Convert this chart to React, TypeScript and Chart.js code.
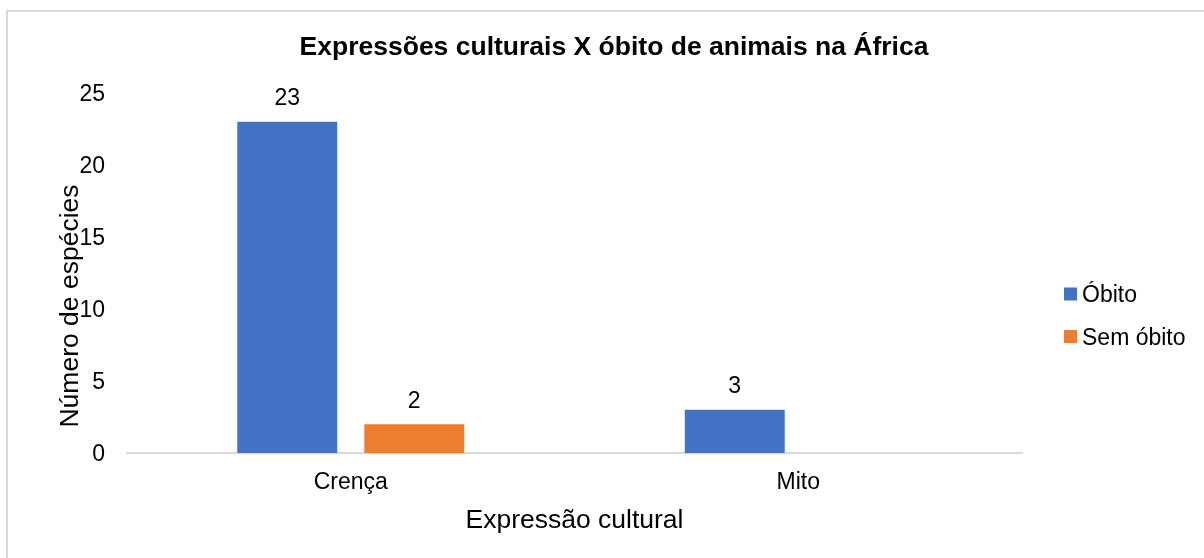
import React, { useEffect, useRef } from "react";
import { Chart, registerables } from "chart.js";

Chart.register(...registerables);

// ---- data ----
const categories = ["Crença", "Mito"];
const seriesNames = ["Óbito", "Sem óbito"];
const obitoValues: (number | null)[] = [23, 3];
const semObitoValues: (number | null)[] = [2, null];
const yTickValues = [0, 5, 10, 15, 20, 25];
const chartTitle = "Expressões culturais X óbito de animais na África";
const xAxisTitle = "Expressão cultural";
const yAxisTitle = "Número de espécies";

const seriesColors = ["#4472C4", "#ED7D31"];
const FONT = '"Liberation Sans", Arial, Helvetica, sans-serif';

const valueLabelsPlugin = {
  id: "valueLabels",
  afterDatasetsDraw(chart: any) {
    const ctx = chart.ctx;
    ctx.save();
    ctx.font = `23px ${FONT}`;
    ctx.fillStyle = "#000";
    ctx.textAlign = "center";
    ctx.textBaseline = "middle";
    chart.data.datasets.forEach((ds: any, i: number) => {
      const meta = chart.getDatasetMeta(i);
      meta.data.forEach((el: any, j: number) => {
        const v = ds.data[j];
        if (v === null || v === undefined) return;
        ctx.fillText(String(v), el.x, el.y - 23);
      });
    });
    ctx.restore();
  },
};

const sideLegendPlugin = {
  id: "sideLegend",
  afterDraw(chart: any) {
    const ctx = chart.ctx;
    ctx.save();
    ctx.font = `23px ${FONT}`;
    ctx.textAlign = "left";
    ctx.textBaseline = "middle";
    const x0 = chart.chartArea.right + 42;
    const yStart = 294;
    const gap = 42.5;
    chart.data.datasets.forEach((ds: any, i: number) => {
      const y = yStart + i * gap;
      ctx.fillStyle = ds.backgroundColor;
      ctx.fillRect(x0, y - 6.5, 13, 13);
      ctx.fillStyle = "#000";
      ctx.fillText(ds.label, x0 + 18, y + 2);
    });
    ctx.restore();
  },
};

const yTitlePlugin = {
  id: "yTitle",
  afterDraw(chart: any) {
    const ctx = chart.ctx;
    ctx.save();
    ctx.font = `26.5px ${FONT}`;
    ctx.fillStyle = "#000";
    ctx.textAlign = "center";
    ctx.textBaseline = "middle";
    ctx.translate(71, 306);
    ctx.rotate(-Math.PI / 2);
    ctx.fillText(yAxisTitle, 0, 0);
    ctx.restore();
  },
};

export default function App() {
  const canvasRef = useRef<HTMLCanvasElement | null>(null);

  useEffect(() => {
    if (!canvasRef.current) return;
    const chart = new Chart(canvasRef.current, {
      type: "bar",
      data: {
        labels: categories,
        datasets: [
          {
            label: seriesNames[0],
            data: obitoValues,
            backgroundColor: seriesColors[0],
            categoryPercentage: 0.5676,
            barPercentage: 0.787,
          },
          {
            label: seriesNames[1],
            data: semObitoValues,
            backgroundColor: seriesColors[1],
            categoryPercentage: 0.5676,
            barPercentage: 0.787,
          },
        ] as any,
      },
      options: {
        responsive: false,
        animation: false,
        layout: { padding: { left: 24, right: 0, top: 0, bottom: 0 } },
        plugins: {
          legend: { display: false },
          tooltip: { enabled: false },
          title: {
            display: true,
            text: chartTitle,
            color: "#000",
            font: { family: FONT, size: 26.5, weight: "bold", lineHeight: 1.2 },
            padding: { top: 32, bottom: 29.2 },
          },
        },
        scales: {
          x: {
            grid: { display: false, drawTicks: false },
            border: { display: true, color: "#d9d9d9", width: 2 },
            ticks: {
              color: "#000",
              font: { family: FONT, size: 23 },
              padding: 16,
            },
            title: {
              display: true,
              text: xAxisTitle,
              color: "#000",
              font: { family: FONT, size: 26.5, lineHeight: 1.2 },
              padding: { top: 0, bottom: 21 },
            },
            afterFit: (s: any) => {
              s.height = 105;
            },
          },
          y: {
            min: yTickValues[0],
            max: yTickValues[yTickValues.length - 1],
            grid: { display: false, drawTicks: false },
            border: { display: false },
            ticks: {
              stepSize: yTickValues[1] - yTickValues[0],
              color: "#000",
              font: { family: FONT, size: 23 },
              padding: 22,
              labelOffset: 2,
            },
            afterFit: (s: any) => {
              s.width = 103;
            },
          },
          legendSpace: {
            type: "linear",
            position: "right",
            display: true,
            grid: { display: false, drawTicks: false },
            border: { display: false },
            ticks: { display: false },
            afterFit: (s: any) => {
              s.width = 182;
            },
          },
        } as any,
      },
      plugins: [valueLabelsPlugin, sideLegendPlugin, yTitlePlugin],
    });
    return () => chart.destroy();
  }, []);

  return (
    <div
      style={{
        position: "fixed",
        left: 0,
        top: 0,
        width: 1204,
        height: 558,
        overflow: "hidden",
        background: "#fff",
      }}
    >
      <div
        style={{
          position: "absolute",
          left: 6,
          top: 10,
          width: 1400,
          height: 800,
          border: "2px solid #d9d9d9",
        }}
      />
      <canvas
        ref={canvasRef}
        width={1204}
        height={558}
        style={{ position: "absolute", left: 0, top: 0, width: 1204, height: 558 }}
      />
    </div>
  );
}
